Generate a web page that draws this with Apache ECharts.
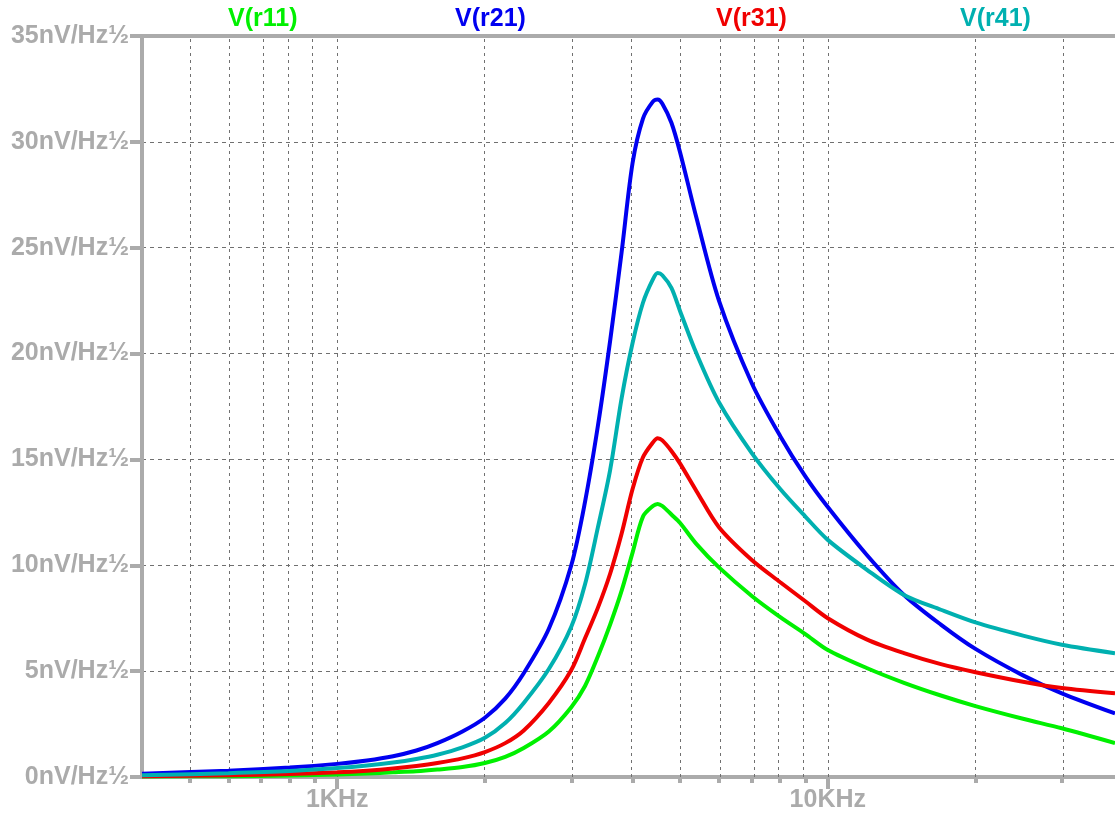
<!DOCTYPE html>
<html>
<head>
<meta charset="utf-8">
<title>noise density</title>
<script src="https://cdn.jsdelivr.net/npm/echarts@6.0.0/dist/echarts.min.js"></script>
<style>
  html, body { margin: 0; padding: 0; background: #fff; }
  #main { width: 1115px; height: 816px; }
</style>
</head>
<body>
<div id="main"></div>
<script>
// frequency points (Hz)
var freqs = [400, 600, 800, 1000, 1150, 1300, 1450, 1600, 1800, 2000, 2200, 2400, 2700, 3000, 3200, 3400, 3600, 3800, 4000,
  4200, 4400, 4500, 4600, 4800, 5000, 5400, 6000, 7000, 8000, 9000, 10000, 12000, 14300, 17000,
  20000, 25000, 30000, 38500];

// noise density, nV/sqrt(Hz)
var r11 = [0.02, 0.04, 0.07, 0.12, 0.17, 0.22, 0.27, 0.35, 0.47, 0.66, 0.95, 1.37, 2.15, 3.3, 4.3, 5.7, 7.2, 8.8, 10.6,
  12.3, 12.8, 12.9, 12.8, 12.4, 12.0, 11.0, 9.9, 8.55, 7.55, 6.75, 6.0, 5.15, 4.45, 3.85,
  3.35, 2.75, 2.3, 1.6];
var r21 = [0.15, 0.3, 0.45, 0.62, 0.78, 0.98, 1.25, 1.6, 2.15, 2.8, 3.7, 4.9, 7.0, 10.0, 13.0, 16.6, 20.6, 24.8, 29.0,
  31.1, 31.9, 32.0, 31.8, 30.9, 29.5, 26.4, 22.5, 18.6, 16.1, 14.2, 12.75, 10.5, 8.6, 7.2,
  6.05, 4.8, 3.95, 3.0];
var r31 = [0.04, 0.08, 0.14, 0.22, 0.3, 0.4, 0.52, 0.66, 0.88, 1.18, 1.6, 2.2, 3.5, 5.05, 6.55, 8.0, 9.6, 11.5, 13.6,
  15.1, 15.8, 16.0, 15.9, 15.4, 14.8, 13.5, 11.8, 10.25, 9.2, 8.3, 7.5, 6.5, 5.85, 5.33,
  4.95, 4.5, 4.2, 3.95];
var r41 = [0.08, 0.18, 0.28, 0.42, 0.54, 0.68, 0.85, 1.05, 1.4, 1.85, 2.55, 3.5, 5.1, 7.1, 9.1, 11.8, 14.5, 17.9, 20.5,
  22.4, 23.5, 23.8, 23.7, 23.1, 22.0, 20.0, 17.7, 15.3, 13.6, 12.3, 11.2, 9.8, 8.6, 7.9,
  7.3, 6.68, 6.25, 5.85];

var seriesNames = ['V(r11)', 'V(r21)', 'V(r31)', 'V(r41)'];
var seriesColors = ['#00f000', '#0000f0', '#f00000', '#00b0b0'];

// axis ticks
var minorTicks = [500, 600, 700, 800, 900, 2000, 3000, 4000, 5000, 6000, 7000, 8000, 9000, 20000, 30000];
var majorTicks = [1000, 10000];
var majorLabels = ['1KHz', '10KHz'];
var fMin = 400, fMax = 38500;

var grey = '#ababab';
var font = '"Liberation Sans", Arial, sans-serif';

function lg(f) { return Math.log10(f); }
function toPts(vals) {
  return freqs.map(function (f, i) { return [lg(f), vals[i]]; });
}

var myChart = echarts.init(document.getElementById('main'));

var legendLeft = [218, 445, 706, 950];
var legends = seriesNames.map(function (n, i) {
  return {
    left: legendLeft[i],
    top: 2,
    icon: 'none',
    itemWidth: 0,
    selectedMode: false,
    data: [{ name: n, textStyle: { color: seriesColors[i] } }],
    textStyle: { fontSize: 25, fontWeight: 'bold', fontFamily: font }
  };
});

var gridLines = minorTicks.concat(majorTicks).map(function (f) { return { xAxis: lg(f) }; });

var allVals = [r11, r21, r31, r41];
var series = allVals.map(function (vals, i) {
  return {
    name: seriesNames[i],
    type: 'line',
    data: toPts(vals),
    smooth: 0.3,
    showSymbol: false,
    lineStyle: { color: seriesColors[i], width: 4 },
    itemStyle: { color: seriesColors[i] },
    z: 3
  };
});
series[0].markLine = {
  silent: true,
  symbol: 'none',
  label: { show: false },
  lineStyle: { color: '#707070', width: 1, type: [3, 4] },
  data: gridLines,
  z: 1
};

var option = {
  animation: false,
  legend: legends,
  grid: { left: 142, right: 0, top: 36, bottom: 39, outerBoundsMode: 'none', containLabel: false },
  xAxis: [
    {
      type: 'value',
      min: lg(fMin),
      max: lg(fMax),
      axisLine: { lineStyle: { color: grey, width: 4 } },
      axisTick: { show: true, length: 12, customValues: majorTicks.map(lg), lineStyle: { color: grey, width: 4 } },
      axisLabel: {
        customValues: majorTicks.map(lg),
        margin: 11,
        color: grey,
        fontSize: 25,
        fontWeight: 'bold',
        fontFamily: font,
        formatter: function (v) {
          var idx = majorTicks.findIndex(function (f) { return Math.abs(lg(f) - v) < 1e-6; });
          return idx >= 0 ? majorLabels[idx] : '';
        }
      },
      splitLine: { show: false }
    },
    {
      type: 'value',
      position: 'bottom',
      min: lg(fMin),
      max: lg(fMax),
      axisLine: { show: false },
      axisTick: { show: true, length: 6, customValues: minorTicks.map(lg), lineStyle: { color: grey, width: 4 } },
      axisLabel: { show: false },
      splitLine: { show: false }
    },
    {
      type: 'value',
      position: 'top',
      min: lg(fMin),
      max: lg(fMax),
      axisLine: { lineStyle: { color: grey, width: 4 } },
      axisTick: { show: false },
      axisLabel: { show: false },
      splitLine: { show: false }
    }
  ],
  yAxis: {
    type: 'value',
    min: 0,
    max: 35,
    interval: 5,
    axisLine: { show: true, lineStyle: { color: grey, width: 4 } },
    axisTick: { show: true, length: 12, lineStyle: { color: grey, width: 4 } },
    axisLabel: {
      margin: 13,
      color: grey,
      fontSize: 25,
      fontWeight: 'bold',
      fontFamily: font,
      formatter: function (v) { return v + 'nV/Hz½'; }
    },
    splitLine: { show: true, lineStyle: { color: '#707070', width: 1, type: [4, 4] } }
  },
  series: series
};

myChart.setOption(option);
</script>
</body>
</html>
